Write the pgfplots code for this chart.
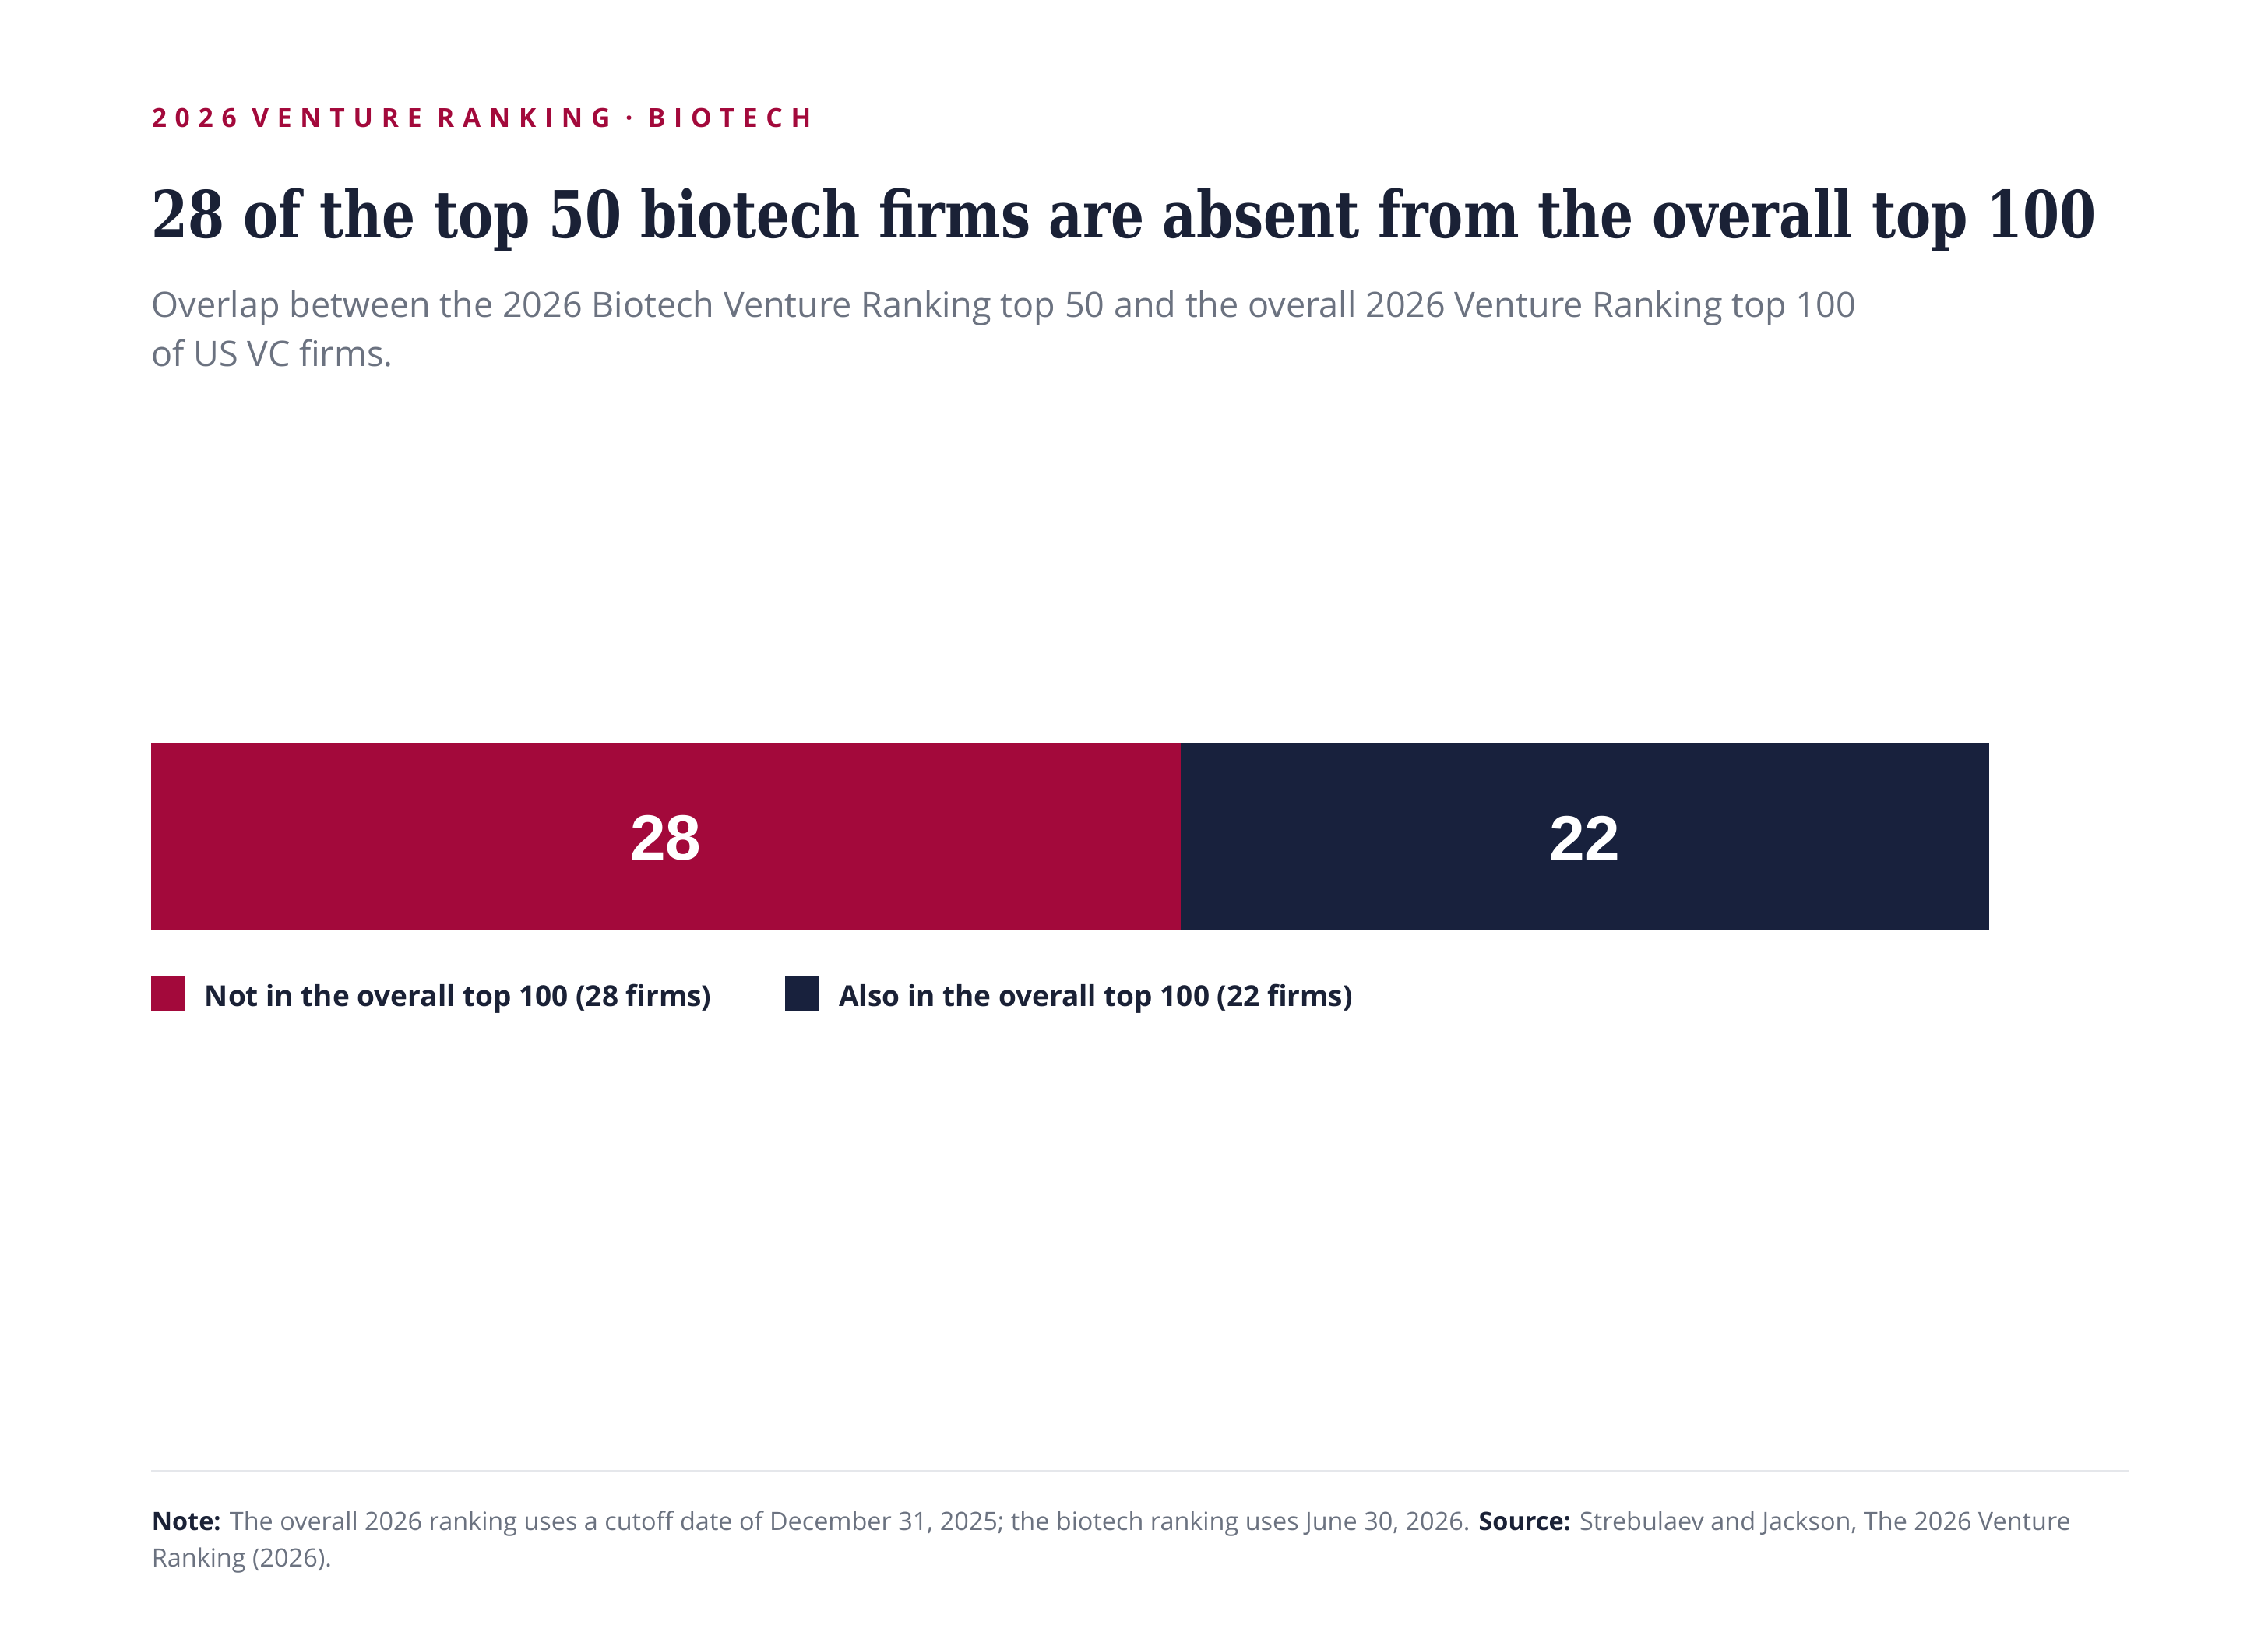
\documentclass[border=0pt]{standalone}
\usepackage{fontspec}
\usepackage{graphicx}
\usepackage{pgfplots}
\pgfplotsset{compat=1.18}
\setmainfont{Open Sans}
\newfontfamily\titlefont{DejaVu Serif}
\newfontfamily\kickerfont{Open Sans}[LetterSpace=32]
\newfontfamily\numfont{Liberation Sans}
\definecolor{crimson}{HTML}{A3093B}
\definecolor{navy}{HTML}{18213D}
\definecolor{titlec}{HTML}{1A2136}
\definecolor{subgray}{HTML}{6B7280}
\definecolor{legendc}{HTML}{1A2136}
\definecolor{rulec}{HTML}{E5E7EB}
\newcommand\titletext{28 of the top 50 biotech firms are absent from the overall top 100}
\newcommand\subtext{Overlap between the 2026 Biotech Venture Ranking top 50 and the overall 2026 Venture Ranking top 100}
\newcommand\foottext{\textcolor{legendc}{\bfseries Note:} The overall 2026 ranking uses a cutoff date of December 31, 2025; the biotech ranking uses June 30, 2026. \textcolor{legendc}{\bfseries Source:} Strebulaev and Jackson, The 2026 Venture}
\newlength\titlew
\newlength\tmpw
\settowidth\titlew{\titlefont\bfseries\fontsize{20.9pt}{25pt}\selectfont\titletext}
\settowidth\tmpw{\fontsize{10pt}{12pt}\selectfont\subtext}
\pgfmathsetmacro\subsz{10*547/\tmpw}
\settowidth\tmpw{\fontsize{10pt}{12pt}\selectfont\foottext}
\pgfmathsetmacro\footsz{10*616/\tmpw}
\pgfmathsetmacro\titlesx{624.25pt/\titlew}
\begin{document}
\begin{tikzpicture}
\path[use as bounding box, fill=white] (0pt,0pt) rectangle (728pt,524pt);
% kicker
\node[anchor=base west, inner sep=0pt, text=crimson, font=\kickerfont\bfseries\fontsize{8.4pt}{10pt}\selectfont] at (48.5pt,483pt) {2026 VENTURE RANKING · BIOTECH};
% title
\node[anchor=base west, inner sep=0pt, text=titlec] at (48.5pt,447.5pt) {\scalebox{\titlesx}[1]{\titlefont\bfseries\fontsize{20.9pt}{25pt}\selectfont\titletext}};
% subtitle
\node[anchor=base west, inner sep=0pt, text=subgray, font=\fontsize{\subsz}{16}\selectfont] at (48.5pt,422pt) {\subtext};
\node[anchor=base west, inner sep=0pt, text=subgray, font=\fontsize{\subsz}{16}\selectfont] at (48.5pt,406.25pt) {of US VC firms.};
\begin{axis}[
  at={(48.5pt,225.5pt)}, anchor=south west,
  scale only axis, width=590pt, height=60pt,
  xbar stacked, bar width=1, bar shift=0pt,
  xmin=0, xmax=50, ymin=-0.5, ymax=0.5,
  hide axis, clip=false,
  legend style={at={(axis description cs:0,0)}, anchor=north west, yshift=-15pt,
    draw=none, fill=none, inner sep=0pt, outer sep=0pt,
    font=\bfseries\fontsize{9.25pt}{11pt}\selectfont, text=legendc,
    legend columns=2,
    /tikz/every odd column/.append style={column sep=6.25pt},
    /tikz/every even column/.append style={column sep=23.75pt},
    nodes={inner sep=0pt, outer sep=0pt}},
  legend image code/.code={\fill[#1,draw=none] (0pt,-4.2pt) rectangle (11pt,6.8pt);},
]
\addplot[fill=crimson, draw=none] coordinates {(28,0)};
\addplot[fill=navy, draw=none] coordinates {(22,0)};
\legend{Not in the overall top 100 (28 firms), Also in the overall top 100 (22 firms)}
\coordinate (lab1) at (axis cs:14,0);
\coordinate (lab2) at (axis cs:39,0);
\end{axis}
\node[text=white, inner sep=0pt, font=\numfont\bfseries\fontsize{20.5pt}{24pt}\selectfont] at ([yshift=-0.6pt]lab1) {28};
\node[text=white, inner sep=0pt, font=\numfont\bfseries\fontsize{20.5pt}{24pt}\selectfont] at ([yshift=-0.6pt]lab2) {22};
% footer rule
\draw[rulec, line width=0.5pt] (48.5pt,51.75pt) -- (683.25pt,51.75pt);
\node[anchor=base west, inner sep=0pt, text=subgray, font=\fontsize{\footsz}{12}\selectfont] at (48.5pt,32.5pt) {\foottext};
\node[anchor=base west, inner sep=0pt, text=subgray, font=\fontsize{\footsz}{12}\selectfont] at (48.5pt,20.75pt) {Ranking (2026).};
\end{tikzpicture}
\end{document}
